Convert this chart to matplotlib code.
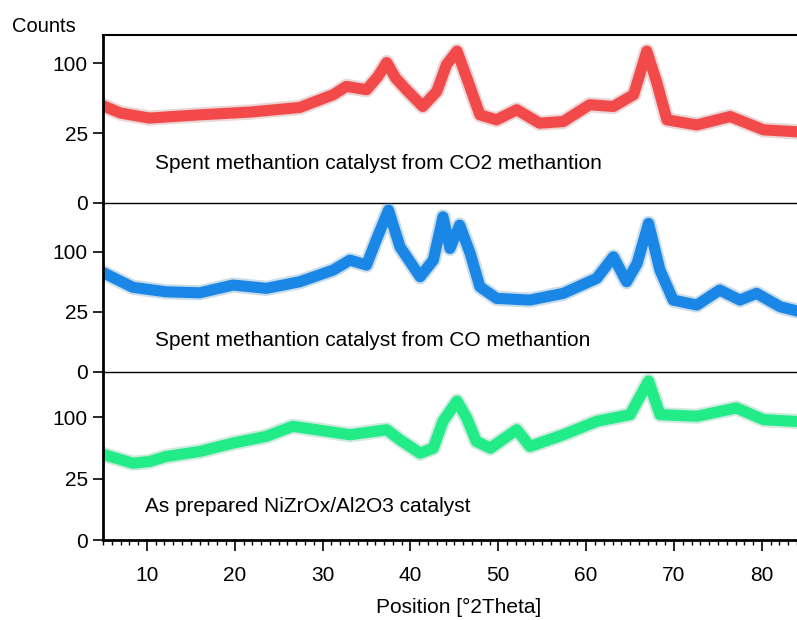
import matplotlib
matplotlib.use('Agg')
import matplotlib.pyplot as plt
import numpy as np

plt.rcParams['font.family'] = ['Liberation Sans', 'DejaVu Sans']

# XRD patterns (2theta in degrees, counts)
x_co2 = [5.2, 7, 10.3, 13, 16, 21.7, 27.4, 31.2, 32.7, 35, 36.3,
         37.3, 38.3, 39.5, 41.4, 43, 44.1, 45.3, 46.4, 47.9, 49.8, 52.1, 54.7, 57.4,
         60.4, 63.1, 65.4, 66.9, 68, 69.2, 72.6, 76.4, 80.2, 83.6]
y_co2 = [47.7, 41.4, 36.9, 38.3, 39.8, 42.3, 46.7, 60.0, 69.6, 65.7, 82,
         101, 80, 66, 47.7, 63.8, 98, 118, 80.5, 39.8, 35.4, 44.5, 32.6, 34,
         49.4, 47.7, 60, 118, 75.8, 35.4, 31.2, 38.3, 27.4, 26.1]

x_co = [5.2, 8.4, 12.2, 16, 19.8, 23.6, 27.4, 31.2, 33.1, 35, 36.1, 37.5, 38.8, 41.1,
        42.6, 43.7, 44.5, 45.6, 46.8, 47.9, 49.8, 53.6, 57.4, 61.2, 63.1, 64.6, 65.8,
        67.1, 68.4, 69.9, 72.6, 75.2, 77.5, 79.4, 82.1, 83.6]
y_co = [67.2, 49.5, 44.4, 43.3, 52.2, 48.3, 56.3, 71.8, 86.6, 79.1, 120.5, 181.6, 108.5, 62.7,
        86.6, 166.8, 105.7, 149.5, 97.3, 50.2, 37.4, 35.7, 42.7, 60.6, 91.8, 56.3, 81.6,
        152.9, 71.8, 35.7, 30.9, 46.4, 35.7, 42.7, 29.3, 26.4]

x_fresh = [5.2, 8.4, 10.3, 12.2, 16, 19.8, 23.6, 26.6, 29.3, 33.1, 37.3, 38.8, 41.1, 42.6,
           43.7, 45.3, 46.4, 47.5, 49.1, 52.1, 53.6, 57.4, 61.2, 65, 67.1, 68.4, 72.6,
           77.1, 80.2, 83.6]
y_fresh = [48.1, 39.1, 40.9, 46.3, 52, 62.3, 71.3, 85.8, 80.7, 73.5, 80.7, 66.6, 50, 56,
           93.5, 128, 98.9, 64.5, 56, 80.7, 58.1, 73.5, 93.5, 104.3, 167.7, 104.3, 101.6,
           115.8, 96.1, 93.5]

labels = ['Spent methantion catalyst from CO2 methantion',
          'Spent methantion catalyst from CO methantion',
          'As prepared NiZrOx/Al2O3 catalyst']
colors = ['#f24a4a', '#1a87e6', '#22ec88']
edge_colors = ['#b05a5a', '#2f78a8', '#3fae80']
ytops = [145, 197, 188]
ytick_vals = [0, 25, 100]
xtick_vals = [10, 20, 30, 40, 50, 60, 70, 80]

fig = plt.figure(figsize=(7.97, 6.2), dpi=100)

left = 103 / 797
width = 1 - left
h = 168.3 / 620
bottoms = [(620 - 203) / 620, (620 - 371.7) / 620, (620 - 540) / 620]

series = [(x_co2, y_co2), (x_co, y_co), (x_fresh, y_fresh)]
axes = []
for i, (xs, ys) in enumerate(series):
    ax = fig.add_axes([left, bottoms[i], width, h])
    # counts axis is square-root scaled (0, 25, 100 evenly spaced)
    ax.set_yscale('function', functions=(lambda v: np.sqrt(np.clip(v, 0, None)),
                                         lambda v: np.asarray(v) ** 2))
    # noisy band: soft darker halo under a solid core
    ax.plot(xs, ys, color=edge_colors[i], lw=11, alpha=0.25, solid_joinstyle='round')
    ax.plot(xs, ys, color=colors[i], lw=8, solid_joinstyle='round')
    ax.set_xlim(5, 84)
    ax.set_ylim(0, ytops[i])
    ax.set_yticks(ytick_vals)
    ax.set_yticklabels([str(v) for v in ytick_vals], fontsize=15)
    ax.yaxis.set_minor_locator(matplotlib.ticker.NullLocator())
    ax.tick_params(axis='y', direction='out', length=7, width=1.2, pad=4)
    ax.spines['right'].set_visible(False)
    ax.spines['left'].set_linewidth(2)
    ax.spines['top'].set_visible(i == 0)
    ax.spines['top'].set_linewidth(1.5)
    ax.spines['bottom'].set_linewidth(2 if i == 2 else 1)
    ax.set_xticks(xtick_vals)
    ax.xaxis.set_minor_locator(matplotlib.ticker.MultipleLocator(1))
    if i < 2:
        ax.tick_params(axis='x', which='both', bottom=False, labelbottom=False)
    else:
        ax.set_xticklabels([str(v) for v in xtick_vals], fontsize=15)
        ax.tick_params(axis='x', which='major', direction='out', length=8, width=1.2, pad=11)
        ax.tick_params(axis='x', which='minor', direction='out', length=3.5, width=1)
    ax.patch.set_alpha(0)
    axes.append(ax)

axes[0].text(0.075, 0.232, labels[0], transform=axes[0].transAxes, fontsize=15, va='center')
axes[1].text(0.075, 0.188, labels[1], transform=axes[1].transAxes, fontsize=15, va='center')
axes[2].text(0.0605, 0.199, labels[2], transform=axes[2].transAxes, fontsize=15, va='center')

fig.text(12 / 797, (620 - 27) / 620, 'Counts', fontsize=14.5, va='center', ha='left')
fig.text(459 / 797, (620 - 607) / 620, 'Position [°2Theta]', fontsize=15, va='center',
         ha='center')

fig.savefig('out.png', dpi=100)
